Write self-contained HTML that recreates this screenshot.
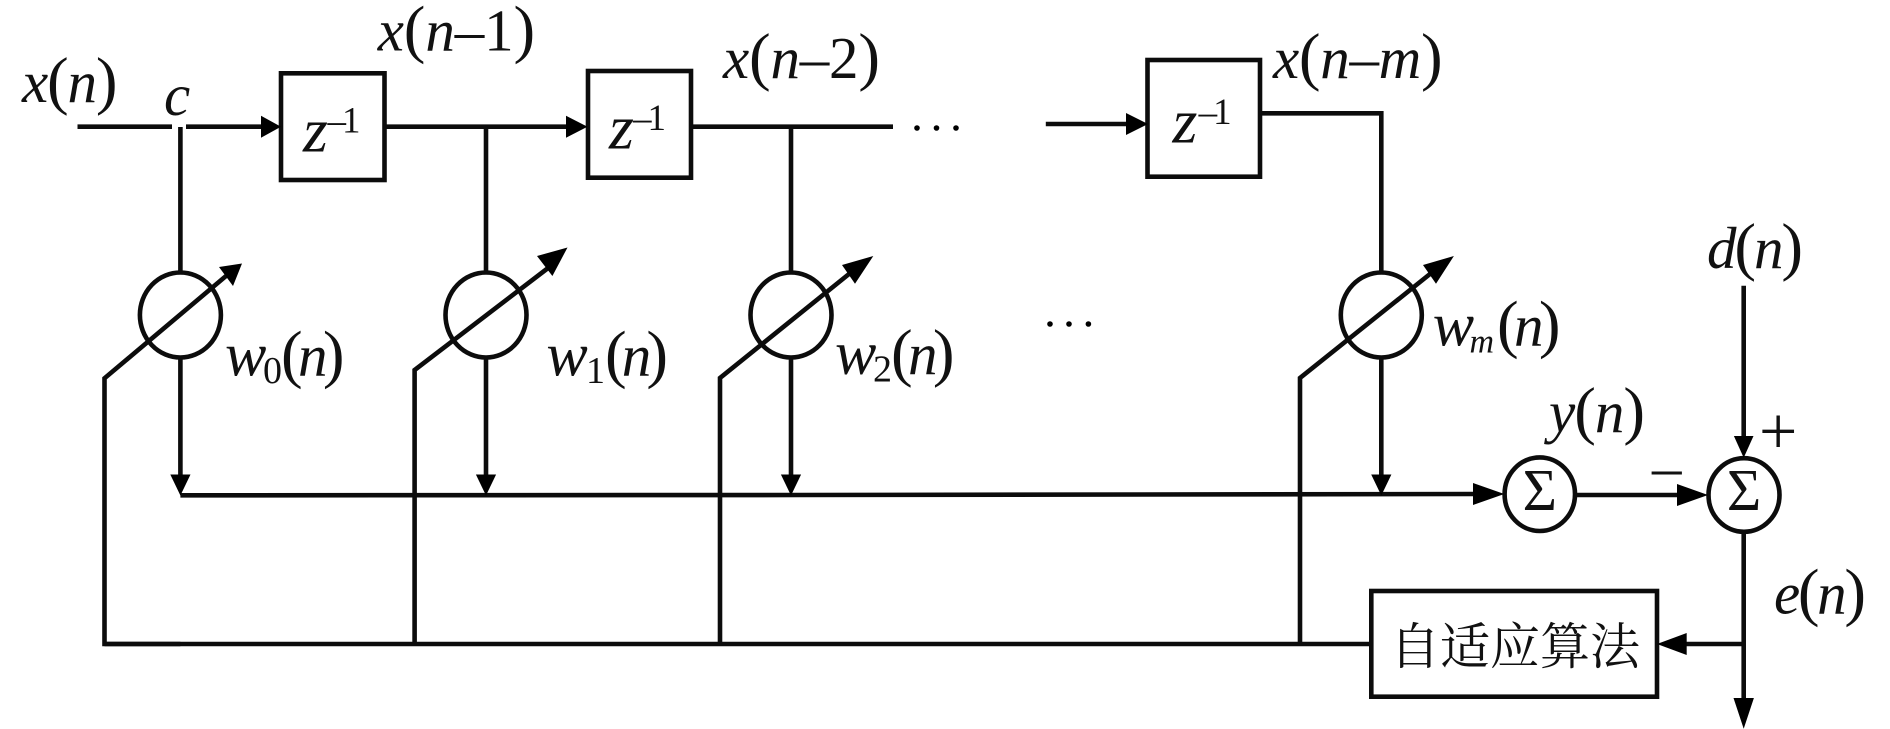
<!DOCTYPE html>
<html><head><meta charset="utf-8">
<style>
html,body{margin:0;padding:0;background:#fff}
svg{display:block}
text{font-family:"Liberation Serif","Noto Serif CJK SC",serif;font-size:59px;fill:#111}
.i{font-style:italic}
.p{font-size:65px}
.z{font-size:64px;font-style:italic}
.w{font-size:62px;font-style:italic}
.sub{font-size:38px}
.sup{font-size:37px}
</style></head><body>
<svg width="1890" height="729" viewBox="0 0 1890 729" xmlns="http://www.w3.org/2000/svg">
<g fill="none" stroke="#0c0c0c" stroke-width="4.6">
<path d="M77.5 126.7H172M186 126.7H265M180.4 127V272"/>
<rect x="281" y="73.3" width="103.5" height="106.7"/>
<path d="M386 126.7H570M486 127V272"/>
<rect x="588" y="71" width="103" height="106.7"/>
<path d="M693 126.7H893M791 127V272"/>
<path d="M1045.8 124H1130"/>
<rect x="1147.5" y="60" width="112.5" height="116.7"/>
<path d="M1261 113.3H1381.3V272"/>
<ellipse cx="180.4" cy="315" rx="40.5" ry="42.5"/>
<ellipse cx="486" cy="315" rx="40.5" ry="42.5"/>
<ellipse cx="791" cy="315" rx="40.5" ry="42.5"/>
<ellipse cx="1381.3" cy="315" rx="40.5" ry="42.5"/>
<path d="M180.4 644H104.5V378.3L226 276"/>
<path d="M414.6 644V370L552 265"/>
<path d="M720 644V378L849 274"/>
<path d="M1300 644V378L1430 274"/>
<path d="M180.4 358V478M486 358V478M791 358V478M1381.3 358V478"/>
<path d="M180.4 495.3L800 495L1478 494"/>
<ellipse cx="1539.8" cy="494.2" rx="35.2" ry="36.8"/>
<ellipse cx="1744" cy="495" rx="35.5" ry="36.8"/>
<path d="M1577 495H1680M1743.7 285.7V440M1743.7 533V700"/>
<rect x="1371.3" y="591" width="285.7" height="105.7"/>
<path d="M104.5 644H1371M1684 644H1743.7"/>
</g>
<g fill="#000" stroke="none">
<polygon points="281,126.7 261,115.7 261,137.7"/>
<polygon points="587.5,126.7 566,115.7 566,137.7"/>
<polygon points="1148,124 1126,113 1126,135"/>
<polygon points="242,263.5 219,267 233,286"/>
<polygon points="567.5,247.5 537,256 552.4,276"/>
<polygon points="873.3,256 842,265 855,283.7"/>
<polygon points="1453.9,256 1423,265 1436,283.7"/>
<polygon points="180.4,495.5 170.3,474.5 190.5,474.5"/>
<polygon points="486,495.5 475.9,474.5 496.1,474.5"/>
<polygon points="791,495.5 780.9,474.5 801.1,474.5"/>
<polygon points="1381.3,495.5 1371.2,474.5 1391.4,474.5"/>
<polygon points="1504.3,494 1473,483 1473,505"/>
<polygon points="1708,495 1677,484 1677,506"/>
<polygon points="1743.7,457.7 1733.9,436 1753.5,436"/>
<polygon points="1743.7,728.7 1733.5,698 1753.9,698"/>
<polygon points="1657,644 1686.7,633 1686.7,655"/>
<circle cx="917" cy="128" r="2.8"/><circle cx="936.5" cy="128" r="2.8"/><circle cx="956" cy="128" r="2.8"/>
<circle cx="1050" cy="324" r="2.8"/><circle cx="1069" cy="324" r="2.8"/><circle cx="1088.4" cy="324" r="2.8"/>
</g>
<text x="22" y="102" textLength="95.5"><tspan class="i">x</tspan><tspan class="p">(</tspan><tspan class="i">n</tspan><tspan class="p">)</tspan></text>
<text x="164" y="115" class="i">c</text>
<text x="377.7" y="50.3" textLength="157.5"><tspan class="i">x</tspan><tspan class="p">(</tspan><tspan class="i">n</tspan>–1<tspan class="p">)</tspan></text>
<text x="723" y="78" textLength="157"><tspan class="i">x</tspan><tspan class="p">(</tspan><tspan class="i">n</tspan>–2<tspan class="p">)</tspan></text>
<text x="1273" y="78" textLength="169.6"><tspan class="i">x</tspan><tspan class="p">(</tspan><tspan class="i">n</tspan>–<tspan class="i">m</tspan><tspan class="p">)</tspan></text>
<text x="303" y="151.7" class="z">z</text><text x="327.5" y="132.7" class="sup" textLength="33">–1</text>
<text x="609" y="148.3" class="z">z</text><text x="633" y="130" class="sup" textLength="33">–1</text>
<text x="1172.5" y="142.7" class="z">z</text><text x="1198.6" y="124" class="sup" textLength="33">–1</text>
<text x="225" y="375.4" class="w">w</text><text x="263" y="383" class="sub">0</text><text x="281" y="375.4" textLength="63.5"><tspan class="p">(</tspan><tspan class="i">n</tspan><tspan class="p">)</tspan></text>
<text x="546.4" y="375.4" class="w">w</text><text x="586" y="383" class="sub">1</text><text x="605" y="375.4" textLength="63"><tspan class="p">(</tspan><tspan class="i">n</tspan><tspan class="p">)</tspan></text>
<text x="835" y="374" class="w">w</text><text x="873" y="381.5" class="sub">2</text><text x="891" y="374" textLength="63.5"><tspan class="p">(</tspan><tspan class="i">n</tspan><tspan class="p">)</tspan></text>
<text x="1432.8" y="345.4" class="w">w</text><text x="1469.5" y="352.7" class="i" style="font-size:34px">m</text><text x="1497" y="345.4" textLength="63.5"><tspan class="p">(</tspan><tspan class="i">n</tspan><tspan class="p">)</tspan></text>
<text x="1707" y="268" textLength="96"><tspan class="i">d</tspan><tspan class="p">(</tspan><tspan class="i">n</tspan><tspan class="p">)</tspan></text>
<text x="1549" y="432" textLength="96"><tspan class="i">y</tspan><tspan class="p">(</tspan><tspan class="i">n</tspan><tspan class="p">)</tspan></text>
<text x="1774" y="613.7" textLength="92"><tspan class="i">e</tspan><tspan class="p">(</tspan><tspan class="i">n</tspan><tspan class="p">)</tspan></text>
<text x="1759" y="454" style="font-size:68px;font-weight:normal">+</text>
<text x="1652" y="487" textLength="31">–</text>
<text x="1539.8" y="510" text-anchor="middle">Σ</text>
<text x="1744" y="510" text-anchor="middle">Σ</text>
<text x="1390" y="664" style="font-size:50px">自适应算法</text>
</svg>
</body></html>
